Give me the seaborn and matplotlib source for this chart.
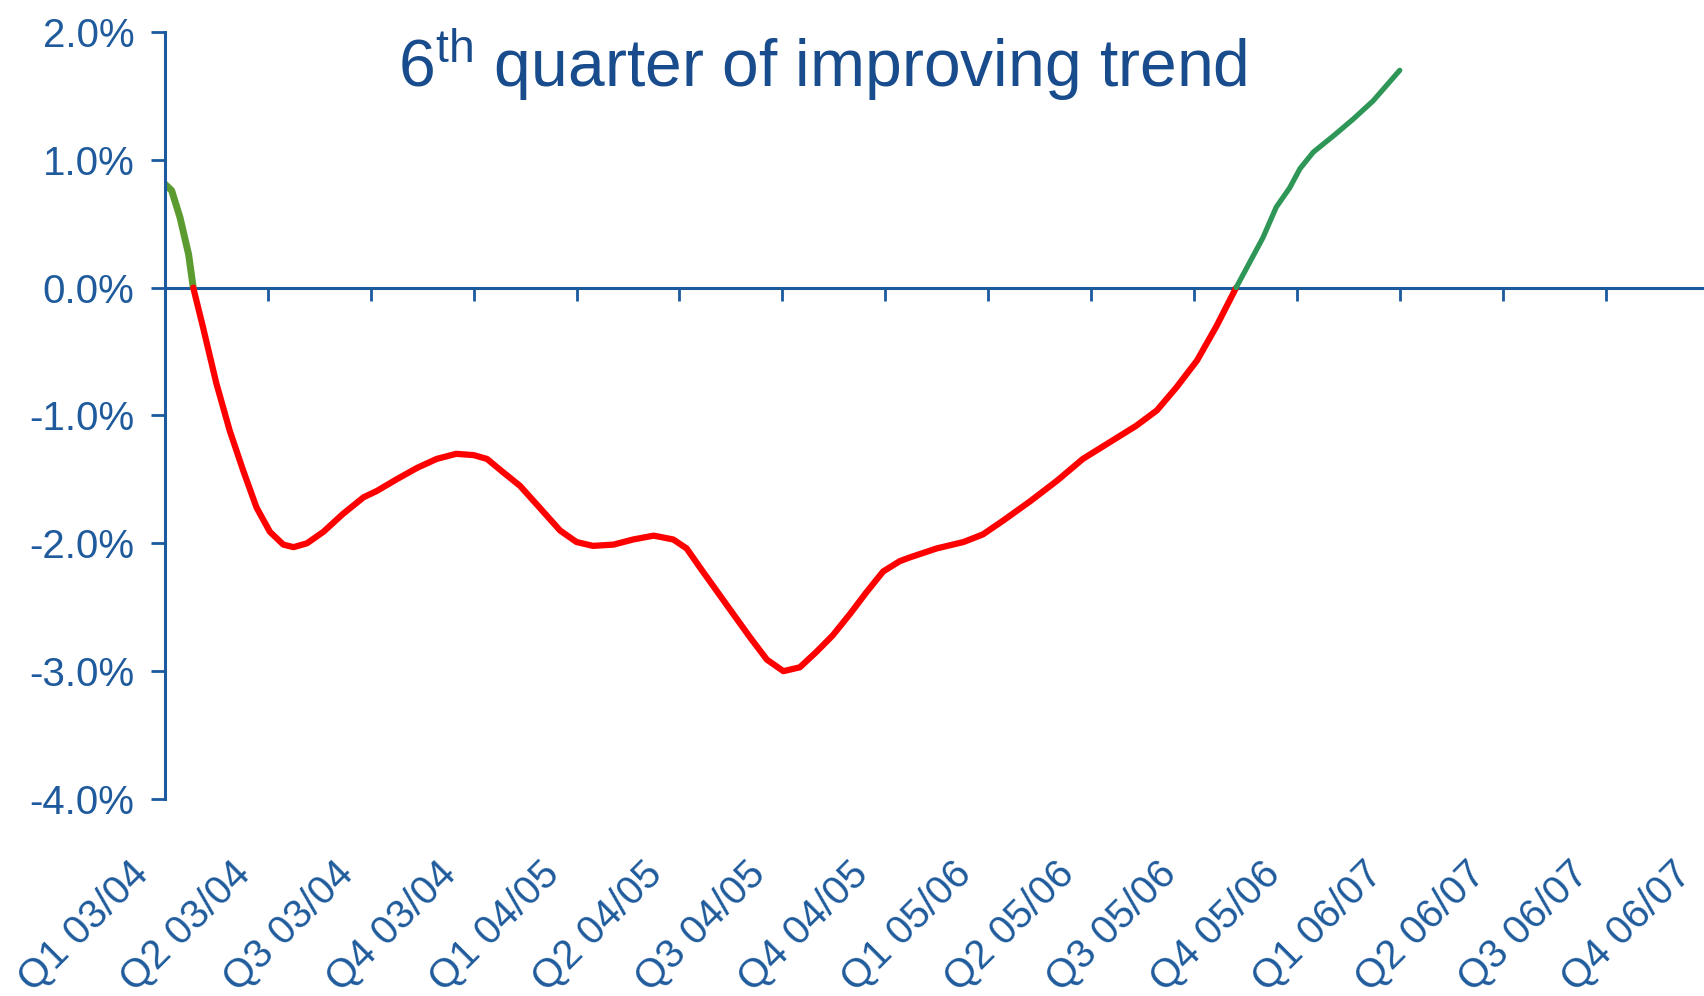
import numpy as np
import pandas as pd
import matplotlib
matplotlib.use("Agg")
import matplotlib.pyplot as plt
import matplotlib.transforms as mtransforms
import seaborn as sns

# Quarter labels along the category axis
quarters = [
    "Q1 03/04", "Q2 03/04", "Q3 03/04", "Q4 03/04",
    "Q1 04/05", "Q2 04/05", "Q3 04/05", "Q4 04/05",
    "Q1 05/06", "Q2 05/06", "Q3 05/06", "Q4 05/06",
    "Q1 06/07", "Q2 06/07", "Q3 06/07", "Q4 06/07",
]

# Trend position (in quarters from Q1 03/04) and growth in %
period = [0.00, 0.065, 0.146, 0.23, 0.275,
          0.37, 0.50, 0.63, 0.76, 0.89, 1.02, 1.15, 1.25, 1.38, 1.54,
          1.73, 1.93, 2.06, 2.25, 2.45, 2.64, 2.83, 3.00, 3.13, 3.28,
          3.45, 3.64, 3.84, 4.00, 4.16, 4.36, 4.55, 4.75, 4.94, 5.07,
          5.20, 5.36, 5.52, 5.69, 5.85, 6.01, 6.17, 6.33, 6.49, 6.66,
          6.82, 6.98, 7.14, 7.24, 7.50, 7.76, 7.95, 8.15, 8.41, 8.67,
          8.92, 9.18, 9.44, 9.64, 9.83, 10.03, 10.22, 10.41,
          10.55, 10.67, 10.80, 10.93, 11.03, 11.16, 11.36, 11.55, 11.74, 12.00]
growth = [0.81, 0.76, 0.55, 0.26, 0.00,
          -0.31, -0.75, -1.12, -1.43, -1.72, -1.91, -2.01, -2.03, -2.00, -1.91,
          -1.77, -1.64, -1.59, -1.50, -1.41, -1.34, -1.30, -1.31, -1.34, -1.44,
          -1.55, -1.72, -1.90, -1.99, -2.02, -2.01, -1.97, -1.94, -1.97, -2.04,
          -2.19, -2.37, -2.55, -2.74, -2.91, -3.00, -2.97, -2.85, -2.72, -2.55,
          -2.38, -2.22, -2.14, -2.11, -2.04, -1.99, -1.93, -1.82, -1.67, -1.51,
          -1.34, -1.21, -1.08, -0.96, -0.78, -0.57, -0.30, 0.00,
          0.21, 0.39, 0.63, 0.78, 0.93, 1.06, 1.19, 1.32, 1.46, 1.70]

title_text = "6$^{\\rm th}$ quarter of improving trend"

# Colours for each run of the curve between zero crossings
segment_colors = ["#5B9B30", "#FF0000", "#2E9757"]
segment_widths = [5.0, 4.5, 3.8]

axis_blue = "#1B5A9E"
text_blue = "#1F5B9C"
title_blue = "#194C8C"

sns.set_style("white")
plt.rcParams["font.family"] = ["Liberation Sans", "DejaVu Sans"]
plt.rcParams["mathtext.fontset"] = "custom"
plt.rcParams["mathtext.rm"] = "Liberation Sans"
plt.rcParams["mathtext.it"] = "Liberation Sans:italic"
plt.rcParams["mathtext.bf"] = "Liberation Sans:bold"

df = pd.DataFrame({"period": period, "growth": growth})

fig = plt.figure(figsize=(17.04, 9.96), dpi=100)
ax = fig.add_axes([0.0968, 0.1978, 0.9058, 0.7701])

# Split the curve wherever it touches zero so each run gets its own colour
zero_idx = df.index[df["growth"] == 0].tolist()
bounds = [0] + zero_idx + [len(df) - 1]
for k, (a, b) in enumerate(zip(bounds[:-1], bounds[1:])):
    seg = df.iloc[a:b + 1]
    sns.lineplot(data=seg, x="period", y="growth", ax=ax,
                 color=segment_colors[k], estimator=None, sort=False)
    line = ax.lines[-1]
    line.set_linewidth(segment_widths[k])
    line.set_solid_capstyle("round")
    line.set_solid_joinstyle("round")

ax.set_xlim(0, 15)
ax.set_ylim(-4, 2)
ax.set_xlabel("")
ax.set_ylabel("")

for side in ("top", "right"):
    ax.spines[side].set_visible(False)
ax.spines["left"].set_color(axis_blue)
ax.spines["left"].set_linewidth(2.2)
ax.spines["bottom"].set_position(("data", 0))
ax.spines["bottom"].set_color(axis_blue)
ax.spines["bottom"].set_linewidth(2.2)
ax.spines["bottom"].set_zorder(1)

ax.set_yticks(np.arange(-4, 2.01, 1.0))
ax.set_yticklabels([f"{v:.1f}%" for v in np.arange(-4, 2.01, 1.0)])
ax.tick_params(axis="y", left=True, direction="out", length=10, width=2.0,
               color=axis_blue, labelsize=29, labelcolor=text_blue, pad=12)

ax.set_xticks(range(len(quarters)))
ax.tick_params(axis="x", bottom=True, direction="out", length=9, width=2.0,
               color=axis_blue, labelbottom=False)

# Quarter names sit along the bottom of the plot area
sec = ax.secondary_xaxis("bottom")
sec.set_xticks(range(len(quarters)))
sec.set_xticklabels(quarters)
sec.spines["bottom"].set_visible(False)
sec.tick_params(axis="x", bottom=True, length=0, pad=59, labelsize=29,
                labelcolor=text_blue)
shift_left = mtransforms.ScaledTranslation(-0.10, 0.0, fig.dpi_scale_trans)
for lab in sec.get_xticklabels():
    lab.set_rotation(45)
    lab.set_ha("right")
    lab.set_va("bottom")
    lab.set_rotation_mode("anchor")
    lab.set_transform(lab.get_transform() + shift_left)

fig.text(0.483, 0.9127, title_text, ha="center", va="baseline",
         fontsize=47.5, color=title_blue)

fig.savefig("out.png", dpi=100, facecolor="white")
